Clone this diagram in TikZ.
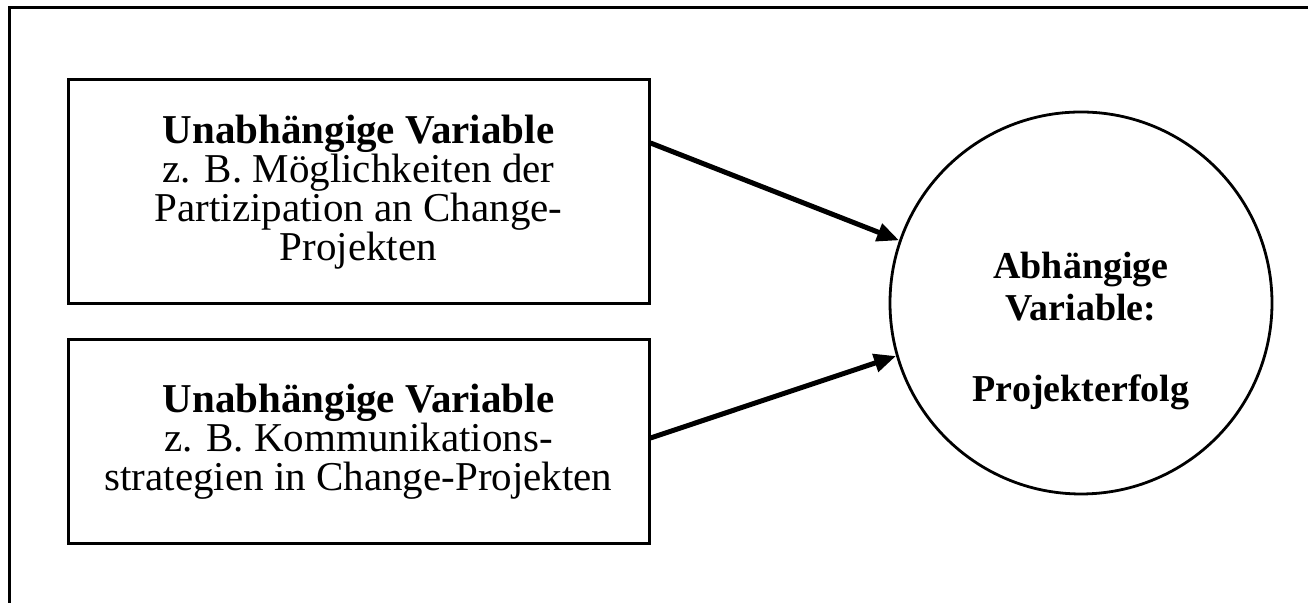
\documentclass[tikz,border=0pt]{standalone}
\usepackage{fontspec}
\setmainfont{Liberation Serif}
\usetikzlibrary{positioning}
\usetikzlibrary{arrows.meta}

\begin{document}
\begin{tikzpicture}[
x=1pt, y=1pt,
varbox/.style={rectangle, draw, line width=1.5pt, minimum width=290.5pt, align=center, inner sep=0pt, font=\fontsize{20.5pt}{19.4pt}\selectfont},
varcircle/.style={circle, draw, line width=1.4pt, minimum size=191pt, inner sep=0pt},
effect/.style={-{Triangle[length=11pt,width=9pt]}, line width=2.5pt},
]
\useasboundingbox (0,0) rectangle (654,301.5);
\clip (0,0) rectangle (654,301.5);
%Frame
\draw[line width=1.5pt] (4.75,-20) rectangle (690,297.75);

%Nodes
\node[varbox, minimum height=112pt] (uv1) at (179.25,205.5) {\textbf{Unabhängige Variable}\\ z. B. Möglichkeiten der\\ Partizipation an Change-\\ Projekten};
\node[varbox, minimum height=102pt] (uv2) [below=16.5pt of uv1] {\textbf{Unabhängige Variable}\\ z. B. Kommunikations-\\ strategien in Change-Projekten};
\node[varcircle] (av) at (540.5,150) {};
\node[font=\bfseries\fontsize{19pt}{21pt}\selectfont, align=center] (avtext) at ([yshift=-14pt]av.center) {Abhängige\\ Variable:\\[19.5pt] Projekterfolg};

%Lines
\draw[effect] ([yshift=24.5pt]uv1.east) -- (av.161);
\draw[effect] ([yshift=2pt]uv2.east) -- (av.196.5);
\end{tikzpicture}
\end{document}
